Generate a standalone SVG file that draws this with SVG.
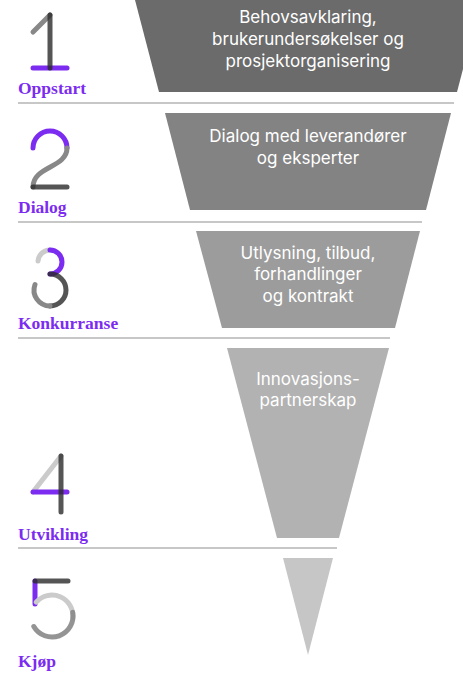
<svg xmlns="http://www.w3.org/2000/svg" width="463" height="673" viewBox="0 0 463 673">
<style>
.bg{fill:#ffffff}
.sep{stroke:#b4b4b4;stroke-width:1.6;fill:none}
.t{font-family:Inter,"Liberation Sans",Arial,sans-serif;font-size:17px;fill:#ffffff;text-anchor:middle}
.lbl{font-family:"Liberation Serif","Times New Roman",serif;font-weight:bold;font-size:17.5px;fill:#7b2cf0}
.n{fill:none;stroke-width:5;stroke-linecap:round}
.p{stroke:#7b2cf0}
.dk{stroke:#2a2a2a;stroke-opacity:.8}
.md{stroke:#888888}
.lt{stroke:#cbcbcb}
</style>
<rect class="bg" x="0" y="0" width="463" height="673"/>
<g id="connectors">
<line class="sep" x1="18" y1="103" x2="454" y2="103"/>
<line class="sep" x1="18" y1="222" x2="422" y2="222"/>
<line class="sep" x1="18" y1="338" x2="390" y2="338"/>
<line class="sep" x1="18" y1="548" x2="337" y2="548"/>
</g>
<g id="stage1">
<polygon points="135,0 481,0 457,92 159,92" fill="#6b6b6b"/>
<text class="t" x="308" y="23">Behovsavklaring,</text>
<text class="t" x="308" y="45">brukerundersøkelser og</text>
<text class="t" x="308" y="67">prosjektorganisering</text>
<path class="n md" d="M33,32 L50,15"/>
<path class="n p" d="M33,68 L67,68"/>
<path class="n dk" d="M50,15 L50,68"/>
<text class="lbl" x="18" y="94">Oppstart</text>
</g>
<g id="stage2">
<polygon points="165,113 451,113 426,210 190,210" fill="#838383"/>
<text class="t" x="308" y="142">Dialog med leverandører</text>
<text class="t" x="308" y="164">og eksperter</text>
<path class="n p" d="M33,148 A17,17 0 0 1 67,148"/>
<path class="n md" d="M67,148 C67,168 33,166 33,187"/>
<path class="n dk" d="M33,187 L67,187"/>
<text class="lbl" x="18" y="213">Dialog</text>
</g>
<g id="stage3">
<polygon points="196,231 420,231 395,328 222,328" fill="#9c9c9c"/>
<text class="t" x="308" y="259">Utlysning, tilbud,</text>
<text class="t" x="308" y="280">forhandlinger</text>
<text class="t" x="308" y="302">og kontrakt</text>
<path class="n lt" d="M38,261 A12,12 0 0 1 50,250"/>
<path class="n p" d="M50,250 A12,12 0 0 1 50,274"/>
<path class="n dk" d="M50,274 A16,16 0 0 1 50,306"/>
<path class="n md" d="M50,306 A16,16 0 0 1 35,284.5"/>
<text class="lbl" x="18" y="329">Konkurranse</text>
</g>
<g id="stage4">
<polygon points="227,348 389,348 339,538 277,538" fill="#b2b2b2"/>
<text class="t" x="308" y="385">Innovasjons-</text>
<text class="t" x="308" y="406">partnerskap</text>
<path class="n lt" d="M61,456 L33,492"/>
<path class="n p" d="M33,492 L67,492"/>
<path class="n dk" d="M61,456 L61,512"/>
<text class="lbl" x="18" y="540">Utvikling</text>
</g>
<g id="stage5">
<polygon points="283,558 333,558 308,655" fill="#c6c6c6"/>
<path class="n p" d="M35,581 L35,604"/>
<path class="n dk" d="M35,581 L68,581"/>
<path class="n lt" d="M36.2,602.2 A21,21 0 0 1 72.9,617.8"/>
<path class="n md" d="M72.7,612.4 A21,21 0 0 1 33.8,626.5" stroke-opacity=".9"/>
<text class="lbl" x="18" y="667">Kjøp</text>
</g>
</svg>
